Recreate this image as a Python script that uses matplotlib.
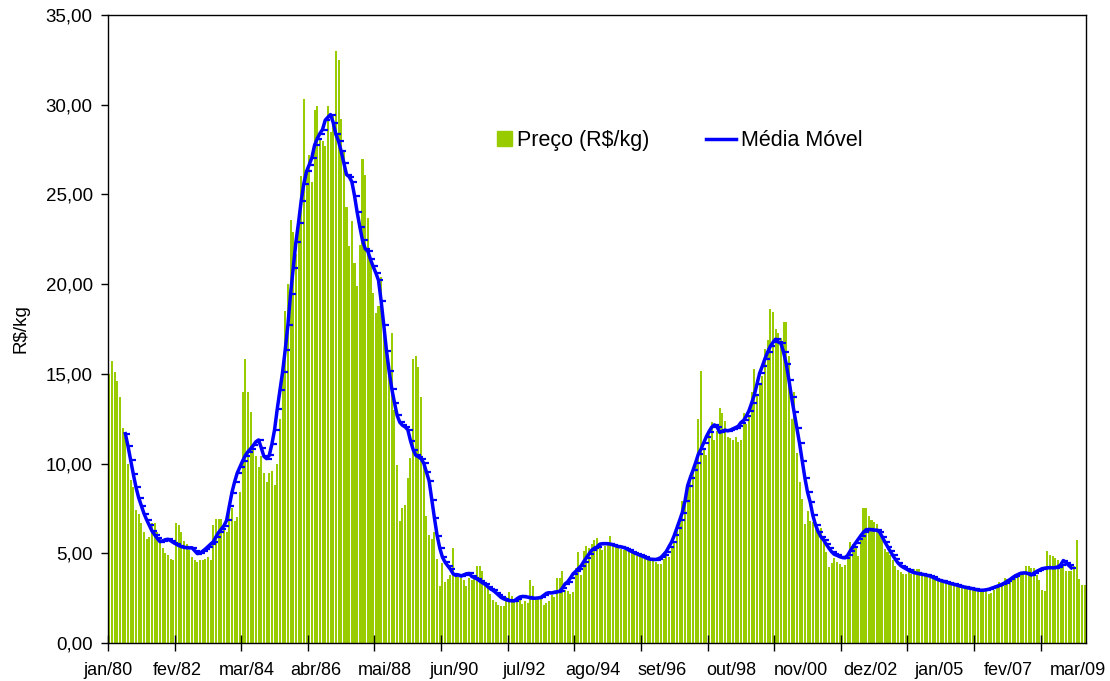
import matplotlib
matplotlib.use("Agg")
import matplotlib.pyplot as plt
import numpy as np
import pandas as pd
from matplotlib.legend_handler import HandlerPatch
from matplotlib.lines import Line2D
from matplotlib.patches import Patch, Rectangle
from matplotlib.path import Path
from matplotlib.ticker import FixedLocator, FuncFormatter, NullFormatter

plt.rcParams["font.family"] = ["Liberation Sans", "DejaVu Sans"]

# monthly price, jan/80 .. jul/10 (R$/kg)
preco = [
    15.0, 15.7, 15.1, 14.6, 13.7, 12.0, 11.5, 10.0, 9.1, 8.7, 7.4, 7.2,       # 1980
    6.7, 6.2, 5.8, 5.9, 6.7, 6.7, 6.2, 5.8, 5.3, 5.0, 4.9, 4.7,               # 1981
    4.6, 6.7, 6.6, 6.2, 5.7, 5.5, 5.2, 4.8, 4.6, 4.5, 4.6, 4.6,               # 1982
    4.7, 4.8, 4.6, 6.6, 6.9, 6.9, 6.9, 6.4, 6.2, 7.8, 7.5, 6.8,               # 1983
    7.0, 8.4, 14.0, 15.8, 14.0, 12.9, 10.9, 10.4, 9.8, 10.4, 9.5, 9.0,        # 1984
    9.5, 9.6, 8.8, 10.0, 12.5, 15.0, 18.5, 20.0, 23.6, 22.9, 21.7, 24.0,      # 1985
    26.0, 30.3, 26.3, 27.2, 25.7, 29.7, 29.9, 28.1, 28.0, 27.7, 29.9, 28.5,   # 1986
    29.4, 33.0, 32.5, 29.2, 27.5, 24.3, 22.1, 23.5, 21.2, 19.9, 22.2, 27.0,   # 1987
    26.1, 23.7, 21.3, 19.5, 18.4, 18.8, 20.4, 18.0, 16.5, 15.6, 17.3, 13.0,   # 1988
    9.9, 6.8, 7.5, 7.7, 9.2, 10.3, 15.8, 16.0, 15.4, 13.7, 10.0, 7.1,         # 1989
    6.0, 5.8, 6.2, 4.7, 3.17, 4.46, 3.39, 3.55, 3.8, 5.32, 3.91, 3.68,        # 1990
    3.6, 3.53, 3.17, 3.63, 3.53, 3.57, 4.28, 4.28, 4.02, 3.3, 3.09, 2.75,     # 1991
    2.38, 2.3, 2.12, 2.05, 2.05, 2.56, 2.83, 2.64, 2.4, 2.35, 2.45, 2.19,     # 1992
    2.35, 2.25, 3.53, 3.17, 2.4, 2.45, 2.5, 2.1, 2.21, 2.35, 2.66, 2.57,      # 1993
    3.65, 3.61, 4.0, 2.98, 2.9, 2.72, 2.83, 4.2, 5.06, 3.78, 5.13, 5.39,      # 1994
    5.3, 5.5, 5.73, 5.84, 5.58, 5.17, 5.39, 5.5, 5.95, 5.58, 5.5, 5.43,       # 1995
    5.26, 5.2, 5.17, 5.21, 5.13, 5.02, 4.87, 4.84, 4.8, 4.71, 4.65, 4.61,     # 1996
    4.58, 4.5, 4.39, 4.38, 4.7, 4.83, 4.8, 5.4, 5.7, 6.6, 6.7, 7.9,           # 1997
    7.7, 8.9, 9.35, 9.45, 9.9, 12.5, 15.15, 10.75, 10.5, 11.8, 12.3, 11.3,    # 1998
    11.8, 13.07, 12.8, 12.4, 11.5, 11.4, 11.3, 11.5, 11.2, 11.3, 12.8, 12.2,  # 1999
    12.6, 14.0, 15.25, 13.8, 14.4, 14.9, 16.4, 16.9, 18.6, 18.44, 17.5, 17.25,  # 2000
    17.0, 17.9, 17.9, 16.0, 12.5, 14.0, 10.6, 9.0, 8.05, 6.62, 7.35, 6.81,    # 2001
    6.73, 6.47, 6.29, 6.4, 5.9, 5.07, 4.25, 4.47, 4.73, 4.5, 4.43, 4.25,      # 2002
    4.32, 4.69, 5.65, 5.5, 5.32, 4.87, 5.8, 7.5, 7.5, 7.07, 6.88, 6.75,       # 2003
    6.62, 6.32, 5.82, 5.26, 5.07, 4.89, 4.6, 4.28, 4.05, 3.96, 3.83, 3.83,    # 2004
    3.94, 3.86, 4.11, 4.11, 4.11, 3.83, 3.72, 3.69, 3.65, 3.57, 3.54, 3.5,    # 2005
    3.46, 3.4, 3.35, 3.31, 3.28, 3.24, 3.2, 3.16, 3.13, 3.09, 3.05, 3.0,      # 2006
    2.98, 2.94, 2.94, 2.94, 2.9, 2.94, 2.71, 2.8, 2.94, 3.12, 3.4, 3.35,      # 2007
    3.6, 3.55, 3.55, 3.64, 3.7, 3.87, 3.9, 3.9, 4.28, 4.28, 4.2, 4.2,         # 2008
    3.78, 3.53, 2.94, 2.88, 5.12, 4.91, 4.84, 4.76, 4.61, 4.5, 4.4, 4.0,      # 2009
    4.0, 4.0, 4.28, 5.73, 3.55, 3.22, 3.22,                                   # 2010
]

tick_labels = ["jan/80", "fev/82", "mar/84", "abr/86", "mai/88", "jun/90", "jul/92",
               "ago/94", "set/96", "out/98", "nov/00", "dez/02", "jan/05", "fev/07",
               "mar/09"]

n = len(preco)
xpos = np.arange(n) + 0.5

# 12-month centred moving average of the price series
media = pd.Series(preco).rolling(12).mean().shift(-5).to_numpy()

verde = "#99CC00"
azul = "#0000FF"

# Excel-style dash marker, drawn to the right of each point
traco = Path([(0, 0), (1, 0)], [Path.MOVETO, Path.LINETO])

fig = plt.figure(figsize=(11.1, 6.81), dpi=100)
ax = fig.add_axes([0.0973, 0.0558, 0.8811, 0.9222])

ax.bar(xpos, preco, width=0.76, color=verde, linewidth=0)
ax.plot(xpos, media, color=azul, linewidth=2.5, marker=traco, markersize=7,
        markeredgewidth=1.6)

ax.set_xlim(0, n)
ax.set_ylim(0, 35)

ax.yaxis.set_major_locator(FixedLocator(np.arange(0, 35.1, 5)))
ax.yaxis.set_major_formatter(FuncFormatter(lambda v, p: f"{v:.2f}".replace(".", ",")))
ax.tick_params(axis="y", direction="out", length=5, width=1, labelsize=13.5, pad=6)

# tick marks every 25 months, labels spread evenly along the axis
ax.xaxis.remove_overlapping_locs = False
ax.xaxis.set_minor_locator(FixedLocator(np.arange(0, n, 25)))
ax.xaxis.set_minor_formatter(NullFormatter())
ax.xaxis.set_major_locator(FixedLocator(np.arange(len(tick_labels)) * 26.0))
ax.set_xticklabels(tick_labels)
ax.tick_params(axis="x", which="minor", direction="inout", length=12, width=1)
ax.tick_params(axis="x", which="major", length=0, labelsize=13, pad=13.5)

for s in ax.spines.values():
    s.set_linewidth(1)
    s.set_color("black")

ax.set_ylabel(r"R\$/kg", fontsize=13.5)
ax.yaxis.set_label_coords(-0.08, 0.5)


def square(legend, orig_handle, xdescent, ydescent, width, height, fontsize):
    s = 10.5
    return Rectangle((width - xdescent - s, -ydescent + (height - s) / 2), s, s)


handles = [Patch(color=verde),
           Line2D([], [], color=azul, linewidth=2.5)]
ax.legend(handles, [r"Preço (R\$/kg)", "Média Móvel"], ncol=2, frameon=False,
          loc="center", bbox_to_anchor=(0.577, 0.8), fontsize=15.5,
          handlelength=1.4, handletextpad=0.25, columnspacing=2.6,
          handler_map={Patch: HandlerPatch(patch_func=square)})

fig.savefig("out.png", dpi=100)
